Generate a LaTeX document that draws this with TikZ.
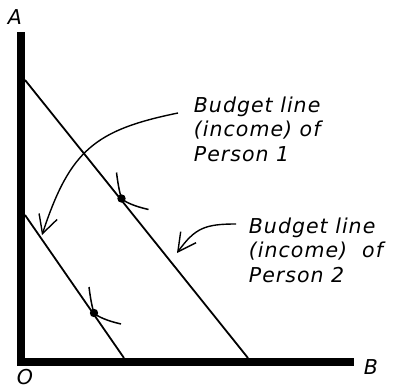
\documentclass[tikz,border=0pt]{standalone}
\usepackage{fontspec}
\setmainfont{DejaVu Sans}[LetterSpace=5]
\usetikzlibrary{arrows.meta}
\begin{document}
\begin{tikzpicture}[x=1pt, y=-1pt, line width=1.8pt,
  lbl/.style={font=\fontsize{20.5}{24.5}\selectfont\itshape, inner sep=0pt},
  axis/.style={line width=8pt, line join=miter},
  note/.style={line width=1.4pt, -{Straight Barb[length=18pt,width=19pt]}},
  tick/.style={line width=1.5pt}]
  \useasboundingbox (0,0) rectangle (399,388);
  \coordinate (top) at (21,32); \coordinate (orig) at (21,361.5);
  \coordinate (right) at (354,361.5);
  \coordinate (hiA) at (25,80); \coordinate (hiB) at (248,358);
  \coordinate (loA) at (25,215); \coordinate (loB) at (124,358);
  \coordinate (dotA) at (121.5,198.5); \coordinate (dotB) at (94,313);
  \coordinate (tailOne) at (178,113); \coordinate (tipOne) at (42,235);
  \coordinate (tailTwo) at (236,224); \coordinate (tipTwo) at (177,253);
  \draw[axis] (top) -- (orig) -- (right);
  \node[lbl] (labA) at (15,17.5) {A};
  \node[lbl] (labB) at (371,367.5) {B};
  \node[lbl] (labO) at (25,377) {O};
  \draw (hiA) -- (hiB);
  \draw (loA) -- (loB);
  \foreach \d in {dotA,dotB} {
    \fill (\d) circle (4.2);
    \draw[tick, shift={(\d)}] (-5,-26) .. controls (-3,-10) and (-1,-3) .. (0,0)
      .. controls (4,4) and (14,8) .. (27,11);
  }
  \node[lbl, align=left, anchor=north west] (lblOne) at (193,96)
    {Budget line\\(income) of\\Person 1};
  \node[lbl, align=left, anchor=north west] (lblTwo) at (248,217)
    {Budget line\\(income)\ \ of\\Person 2};
  \draw[note] (tailOne) .. controls (95,130) and (70,150) .. (tipOne);
  \draw[note] (tailTwo) .. controls (205,224) and (195,228) .. (tipTwo);
\end{tikzpicture}
\end{document}
